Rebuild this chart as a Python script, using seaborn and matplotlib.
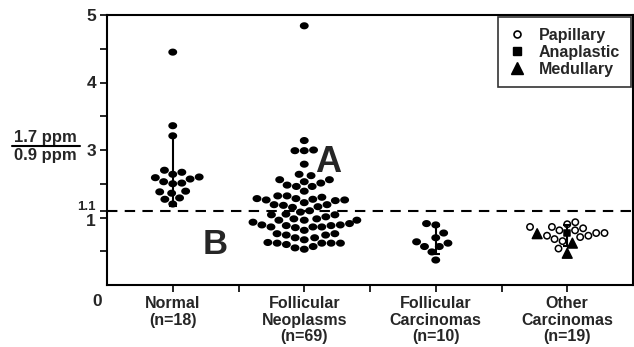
import numpy as np
import pandas as pd
import matplotlib
matplotlib.use("Agg")
import matplotlib.pyplot as plt
import matplotlib.markers as mmarkers
import matplotlib.transforms as mtransforms
from matplotlib.path import Path
from matplotlib.lines import Line2D
import seaborn as sns

# ---------------- data (axis units as drawn) ----------------
categories = ["Normal\n(n=18)", "Follicular\nNeoplasms\n(n=69)",
              "Follicular\nCarcinomas\n(n=10)", "Other\nCarcinomas\n(n=19)"]

normal = [3.45, 2.36, 2.21, 1.57, 1.53, 1.59, 1.70, 1.64, 1.50, 1.36, 1.27,
          1.20, 1.67, 1.60, 1.51, 1.38, 1.39, 1.29]

neoplasms = [3.84, 2.14, 1.99, 1.99, 2.00, 1.79, 1.62, 1.64, 1.56, 1.56, 1.53,
             1.51, 1.46, 1.48, 1.46, 1.39, 1.32, 1.32, 1.28, 1.25, 1.30, 1.26,
             1.27, 1.26, 1.28, 1.22, 1.19, 1.16, 1.18, 1.19, 1.15, 1.10, 1.04,
             1.04, 1.05, 1.01, 0.98, 0.96, 0.96, 0.98, 0.96, 0.85, 0.88, 0.88,
             0.89, 0.91, 0.86, 0.86, 0.86, 0.89, 0.81, 0.76, 0.76, 0.74, 0.74,
             0.70, 0.70, 0.67, 0.63, 0.62, 0.62, 0.62, 0.60, 0.62, 0.55, 0.57,
             0.53, 1.08, 0.93]

follicular_carcinomas = [0.91, 0.89, 0.77, 0.70, 0.64, 0.57, 0.49, 0.57, 0.62, 0.37]

other_papillary = [0.73, 0.65, 0.86, 0.77, 0.90, 0.81, 0.71, 0.93, 0.84, 0.77,
                   0.68, 0.81, 0.86, 0.73, 0.54]
other_anaplastic = [0.77]
other_medullary = [0.62, 0.47, 0.76]

bar_low = [1.17, np.nan, 0.46, 0.58]
bar_high = [2.21, np.nan, 0.87, 0.89]

threshold = 1.1
ytick_pos = [1, 2, 3, 4]
ytick_labels = ["1", "3", "4", "5"]
legend_labels = ["Papillary", "Anaplastic", "Medullary"]

# ---------------- build table ----------------
rows = []
for v in normal:
    rows.append((categories[0], v, "dot"))
for v in neoplasms:
    rows.append((categories[1], v, "dot"))
for v in follicular_carcinomas:
    rows.append((categories[2], v, "dot"))
for v in other_papillary:
    rows.append((categories[3], v, "Papillary"))
for v in other_anaplastic:
    rows.append((categories[3], v, "Anaplastic"))
for v in other_medullary:
    rows.append((categories[3], v, "Medullary"))
df = pd.DataFrame(rows, columns=["group", "value", "kind"])

# ---------------- style ----------------
sns.set_style("ticks")
plt.rcParams["font.family"] = ["Liberation Sans", "DejaVu Sans"]
plt.rcParams["font.weight"] = "bold"

fig = plt.figure(figsize=(6.34, 3.47), dpi=100)
ax = fig.add_axes([107 / 634, 62 / 347, 526 / 634, 270 / 347])

# elliptical dot marker (slightly wider than tall)
t = np.linspace(0, 2 * np.pi, 40)
ellipse = Path(np.column_stack([np.cos(t), 0.8 * np.sin(t)]), closed=True)

palette = {"dot": "black", "Papillary": "white", "Anaplastic": "black",
           "Medullary": "black"}
sns.swarmplot(data=df, x="group", y="value", hue="kind", order=categories,
              palette=palette, size=6.4, marker=ellipse, legend=False,
              linewidth=0, ax=ax, warn_thresh=1)

# per-point marker shapes for the "Other" group
def mpath(m):
    ms = mmarkers.MarkerStyle(m)
    return ms.get_path().transformed(ms.get_transform())

shape = {"Papillary": mpath("o"), "Anaplastic": mpath("s"), "Medullary": mpath("^")}
size = {"Papillary": 4.6 ** 2, "Anaplastic": 4.6 ** 2, "Medullary": 7.0 ** 2}
coll = ax.collections[3]
kinds = df.loc[df["group"] == categories[3], "kind"].tolist()
coll.set_paths([shape[k] for k in kinds])
coll.set_sizes([size[k] for k in kinds])
coll.set_edgecolor("black")
coll.set_linewidth(1.1)

# range bars
for i in range(len(categories)):
    if np.isnan(bar_low[i]):
        continue
    mid = (bar_low[i] + bar_high[i]) / 2
    ax.errorbar(i, mid, yerr=(bar_high[i] - bar_low[i]) / 2, fmt="none",
                ecolor="black", elinewidth=1.5, capsize=3, capthick=1.5, zorder=5)

# threshold line
ax.axhline(threshold, color="black", lw=1.5, ls=(0, (5, 3.5)), zorder=1)

# axes
ax.set_xlim(-0.5, 3.5)
ax.set_ylim(0, 4)
ax.set_xlabel("")
ax.set_ylabel("")
for s in ax.spines.values():
    s.set_visible(True)
    s.set_linewidth(1.5)
    s.set_color("black")

ax.set_xticks(range(len(categories)))
ax.set_xticklabels(categories, fontsize=11.5, fontweight="bold", linespacing=1.12)
ax.set_xticks([0.5, 1.5, 2.5], minor=True)
ax.set_yticks(ytick_pos + [threshold])
ax.set_yticklabels(ytick_labels + ["1.1"], fontsize=12.5, fontweight="bold")
ax.set_yticks([0.5, 1.5, 2.5, 3.5], minor=True)
ax.tick_params(axis="both", which="both", direction="out", width=1.2,
               length=5, color="black")
ax.tick_params(axis="x", which="major", pad=3)
ax.tick_params(axis="y", which="major", pad=3)
for lab in ax.get_yticklabels():
    if lab.get_text() == "1.1":
        lab.set_fontsize(9.5)
        lab.set_transform(lab.get_transform() +
                          mtransforms.ScaledTranslation(0, 5 / 100, fig.dpi_scale_trans))
    elif lab.get_text() == "1":
        lab.set_transform(lab.get_transform() +
                          mtransforms.ScaledTranslation(0, -2.5 / 100, fig.dpi_scale_trans))

# annotations
ax.text(1.18, 1.82, "A", fontsize=26, fontweight="bold", ha="center", va="center")
ax.text(0.32, 0.60, "B", fontsize=25, fontweight="bold", ha="center", va="center")

# origin label and y-axis ratio label
fig.text(97 / 634, 1 - 302 / 347, "0", fontsize=12.5, fontweight="bold",
         ha="center", va="center")
fig.text(45 / 634, 1 - 142 / 347, "1.7 ppm", fontsize=12, fontweight="bold",
         ha="center", va="baseline")
fig.text(45 / 634, 1 - 148 / 347, "0.9 ppm", fontsize=12, fontweight="bold",
         ha="center", va="top")
fig.add_artist(Line2D([12 / 634, 80 / 634], [1 - 146 / 347, 1 - 146 / 347],
                      color="black", lw=1.5))

# legend
handles = [
    Line2D([], [], ls="", marker="o", mfc="white", mec="black", mew=1.2, ms=5),
    Line2D([], [], ls="", marker="s", mfc="black", mec="black", ms=6),
    Line2D([], [], ls="", marker="^", mfc="black", mec="black", ms=8),
]
leg = ax.legend(handles, legend_labels, loc="upper right", borderaxespad=0.15,
                frameon=True, fancybox=False, handlelength=1.0,
                handletextpad=0.9, labelspacing=0.12, borderpad=0.65,
                prop={"size": 11.5, "weight": "bold"})
leg.get_frame().set_edgecolor("black")
leg.get_frame().set_linewidth(1.2)

fig.savefig("out.png", dpi=100)
